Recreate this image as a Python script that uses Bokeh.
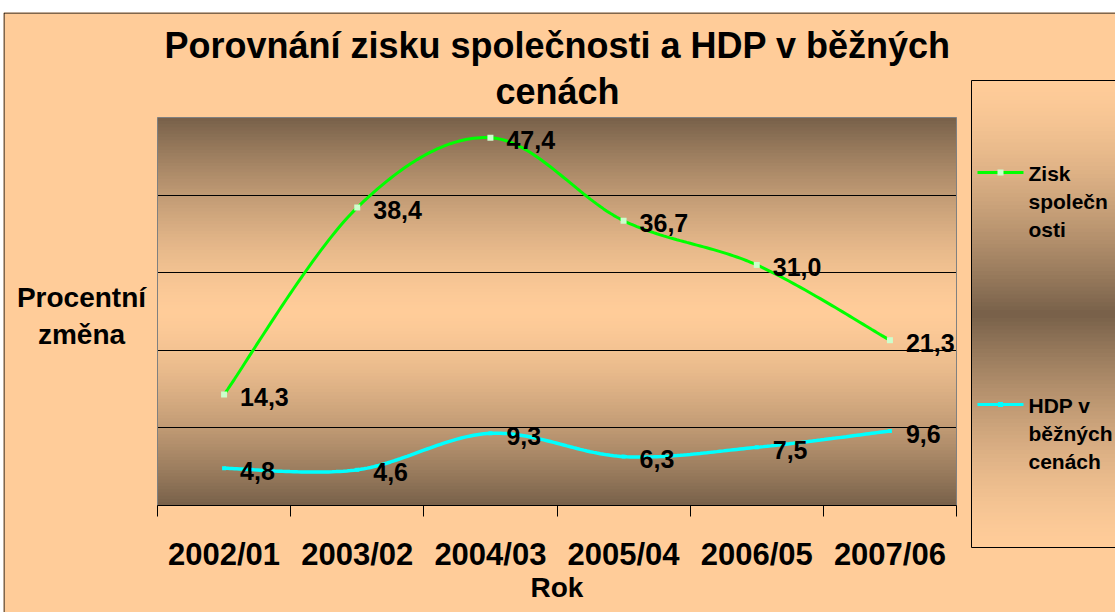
import numpy as np
from bokeh.plotting import figure
from bokeh.models import Range1d, FixedTicker, Spacer
from bokeh.layouts import row, column
from bokeh.embed import file_html
from bokeh.resources import INLINE
from bokeh.core.properties import value

# ---------------- data ----------------
categories = ["2002/01", "2003/02", "2004/03", "2005/04", "2006/05", "2007/06"]
zisk = [14.3, 38.4, 47.4, 36.7, 31.0, 21.3]
hdp = [4.8, 4.6, 9.3, 6.3, 7.5, 9.6]
legend_zisk = ["Zisk", "společn", "osti"]
legend_hdp = ["HDP v", "běžných", "cenách"]
title_lines = ["Porovnání zisku společnosti a HDP v běžných", "cenách"]
y_title = ["Procentní", "změna"]
x_title = "Rok"
grid_values = [10, 20, 30, 40]
YMAX = 50

# ---------------- layout / style (page pixels) ----------------
FONT = "Liberation Sans"
PEACH = (255, 204, 153)
DARK = (119, 96, 73)
PEACH_HEX = "#FFCC99"
GREEN = "#00FF00"
CYAN = "#00FFFF"
OX, OY = 3, 12                 # canvas origin on the page
CW, CH = 1112, 600             # canvas size
PL, PR, PT, PB = 157, 956, 117, 505   # plot area on the page

x = list(range(1, len(categories) + 1))
XLO, XHI = 0.5, len(categories) + 0.5
xs_per_px = (XHI - XLO) / (PR - PL)
ys_per_px = YMAX / (PB - PT)


def X(px):
    return XLO + (px - PL) * xs_per_px


def Y(py):
    return (PB - py) * ys_per_px


def mix(a, b, f):
    return "#%02x%02x%02x" % tuple(int(round(a[k] + (b[k] - a[k]) * f)) for k in range(3))


def smooth(xs, ys, n=40):
    pts = np.column_stack([xs, ys]).astype(float)
    P = np.vstack([pts[0], pts, pts[-1]])
    out = []
    t = np.linspace(0, 1, n, endpoint=False)[:, None]
    for i in range(1, len(P) - 2):
        p0, p1, p2, p3 = P[i - 1], P[i], P[i + 1], P[i + 2]
        c1 = p1 + (p2 - p0) / 6.0
        c2 = p2 - (p3 - p1) / 6.0
        seg = (1 - t) ** 3 * p1 + 3 * (1 - t) ** 2 * t * c1 + 3 * (1 - t) * t ** 2 * c2 + t ** 3 * p2
        out.append(seg)
    out.append(pts[-1:])
    a = np.vstack(out)
    return a[:, 0], a[:, 1]


def fmt(v):
    return ("%.1f" % v).replace(".", ",")


p = figure(width=CW, height=CH, title=None,
           x_range=Range1d(X(OX), X(OX + CW)), y_range=Range1d(Y(OY + CH), Y(OY)),
           output_backend="svg", toolbar_location=None, min_border=0)
p.min_border_left = p.min_border_right = p.min_border_top = p.min_border_bottom = 0
p.border_fill_color = PEACH_HEX
p.background_fill_color = PEACH_HEX
p.outline_line_color = None

# gradient background of the plot area (dark - light - dark)
nb = 120
edges = np.linspace(0, YMAX, nb + 1)
mids = (edges[:-1] + edges[1:]) / 2
tt = np.abs(mids - YMAX / 2) / (YMAX / 2)
h = edges[1] - edges[0]
p.quad(left=XLO, right=XHI, bottom=edges[:-1], top=np.minimum(edges[:-1] + h * 1.3, YMAX),
       fill_color=[mix(PEACH, DARK, f ** 1.5) for f in tt], line_color=None, level="image")

# horizontal grid lines inside the plot area only
p.xgrid.visible = False
g = p.ygrid[0]
g.ticker = FixedTicker(ticks=grid_values)
g.grid_line_color = "black"
g.grid_line_width = 1
if "cross_bounds" in g.properties():
    g.cross_bounds = (XLO, XHI)
else:
    g.visible = False
    p.segment(x0=XLO, x1=XHI, y0=grid_values, y1=grid_values, line_color="black", line_width=1)

# plot area border
p.quad(left=XLO, right=XHI, bottom=0, top=YMAX, fill_color=None, line_color="#808080", line_width=1)
p.yaxis.visible = False

# category axis at y = 0
ax = p.xaxis[0]
ax.fixed_location = 0
ax.bounds = (XLO, XHI)
ax.ticker = FixedTicker(ticks=x, minor_ticks=[i + 0.5 for i in range(len(categories) + 1)])
ax.major_label_overrides = {i: c for i, c in zip(x, categories)}
ax.major_tick_out = 0
ax.major_tick_in = 0
ax.minor_tick_out = 11
ax.minor_tick_in = 0
ax.minor_tick_line_color = "black"
ax.axis_line_color = "black"
ax.major_label_text_font = FONT
ax.major_label_text_font_size = "31px"
ax.major_label_text_font_style = "bold"
ax.major_label_text_color = "black"
ax.major_label_standoff = 20
ax.axis_label = x_title
ax.axis_label_text_font = FONT
ax.axis_label_text_font_size = "28px"
ax.axis_label_text_font_style = "bold"
ax.axis_label_text_color = "black"
ax.axis_label_standoff = -3

# series
sx, sy = smooth(x, zisk)
p.line(sx, sy, line_color=GREEN, line_width=3)
p.scatter(x, zisk, marker="square", size=6, fill_color="#CCFFCC", line_color=None)
hx, hy = smooth(x, hdp)
p.line(hx, hy, line_color=CYAN, line_width=3.5)
p.scatter(x, hdp, marker="square", size=4, fill_color=CYAN, line_color=None)

for vals in (zisk, hdp):
    p.text(x, vals, text=[fmt(v) for v in vals], x_offset=16, y_offset=2.5,
           text_baseline="middle", text_align="left", text_font=value(FONT),
           text_font_size="25px", text_font_style="bold", text_color="black")

# title (two centred lines)
p.text([X(557)] * 2, [Y(45), Y(90.5)], text=title_lines, text_align="center",
       text_baseline="middle", text_font=value(FONT), text_font_size="36px",
       text_font_style="bold", text_color="black")

# vertical-axis title, written horizontally left of the plot area
p.text([X(81)] * 2, [Y(296.5), Y(334)], text=y_title, text_align="center",
       text_baseline="middle", text_font=value(FONT), text_font_size="28px",
       text_font_style="bold", text_color="black")

# legend box with its own gradient (light - dark - light)
LT, LB, LL = 80, 547, 971
ledges = np.linspace(LT, LB, nb + 1)
lmids = (ledges[:-1] + ledges[1:]) / 2
lt = 1 - np.abs(lmids - (LT + LB) / 2) / ((LB - LT) / 2)
lstep = ledges[1] - ledges[0]
p.quad(left=X(LL), right=X(OX + CW + 5), top=[Y(v) for v in ledges[:-1]],
       bottom=[Y(min(v + lstep * 1.3, LB)) for v in ledges[:-1]],
       fill_color=[mix(PEACH, DARK, f ** 1.5) for f in lt], line_color=None, level="image")
p.quad(left=X(LL), right=X(OX + CW + 5), top=Y(LT), bottom=Y(LB), fill_color=None,
       line_color="black", line_width=1)

for lines, ly, col, mfill, ms in ((legend_zisk, 172, GREEN, "#CCFFCC", 6),
                                  (legend_hdp, 404, CYAN, CYAN, 5)):
    p.line([X(977), X(1023)], [Y(ly), Y(ly)], line_color=col, line_width=3)
    p.scatter([X(1000)], [Y(ly)], marker="square", size=ms, fill_color=mfill, line_color=None)
    p.text([X(1028)] * len(lines), [Y(ly + 1 + 28 * k) for k in range(len(lines))], text=lines,
           text_baseline="middle", text_align="left", text_font=value(FONT),
           text_font_size="21px", text_font_style="bold", text_color="black")

# outer chart border (left and top edges)
p.line([X(OX + 0.5), X(OX + 0.5), X(OX + CW + 5)], [Y(OY + CH + 5), Y(OY + 0.5), Y(OY + 0.5)],
       line_color="black", line_width=1)

layout = column(Spacer(width=OX + CW, height=OY), row(Spacer(width=OX, height=CH), p))
open("out.html", "w").write(file_html(layout, INLINE))
